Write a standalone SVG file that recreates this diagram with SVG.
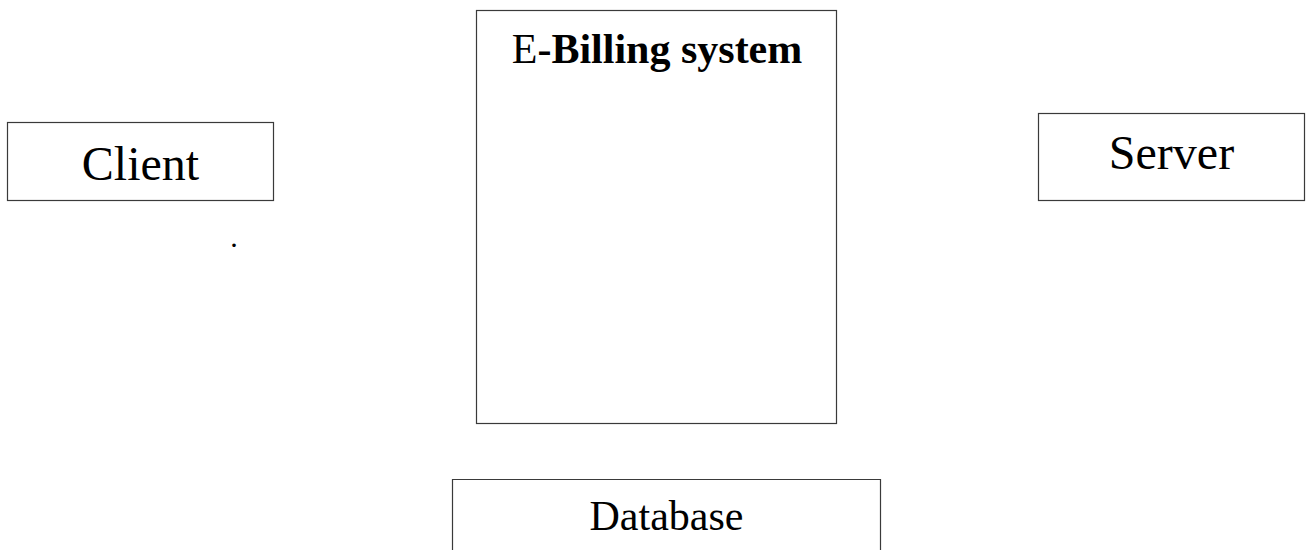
<svg xmlns="http://www.w3.org/2000/svg" width="1309" height="550" viewBox="0 0 1309 550">
  <style>
    .box { fill: #ffffff; stroke: #3a3a3a; stroke-width: 1.2; }
    .label { font-family: "Liberation Serif", "Times New Roman", serif; fill: #000000; text-anchor: middle; }
  </style>
  <rect x="0" y="0" width="1309" height="550" fill="#ffffff"/>

  <g id="client">
    <rect class="box" x="7.5" y="122.5" width="266" height="78"/>
    <text class="label" x="140.5" y="180" font-size="48">Client</text>
  </g>

  <g id="ebilling">
    <rect class="box" x="476.5" y="10.5" width="360" height="413"/>
    <text class="label" x="657" y="63" font-size="42"><tspan>E</tspan><tspan font-weight="bold">-Billing system</tspan></text>
  </g>

  <g id="server">
    <rect class="box" x="1038.5" y="113.5" width="266" height="87"/>
    <text class="label" x="1171.5" y="169" font-size="48">Server</text>
  </g>

  <g id="database">
    <path class="box" d="M452.5 552 V479.5 H880.5 V552"/>
    <text class="label" x="666.5" y="530" font-size="42">Database</text>
  </g>

  <g id="note">
    <text class="label" x="234" y="247" font-size="30">.</text>
  </g>

  <g id="connectors"></g>
</svg>
